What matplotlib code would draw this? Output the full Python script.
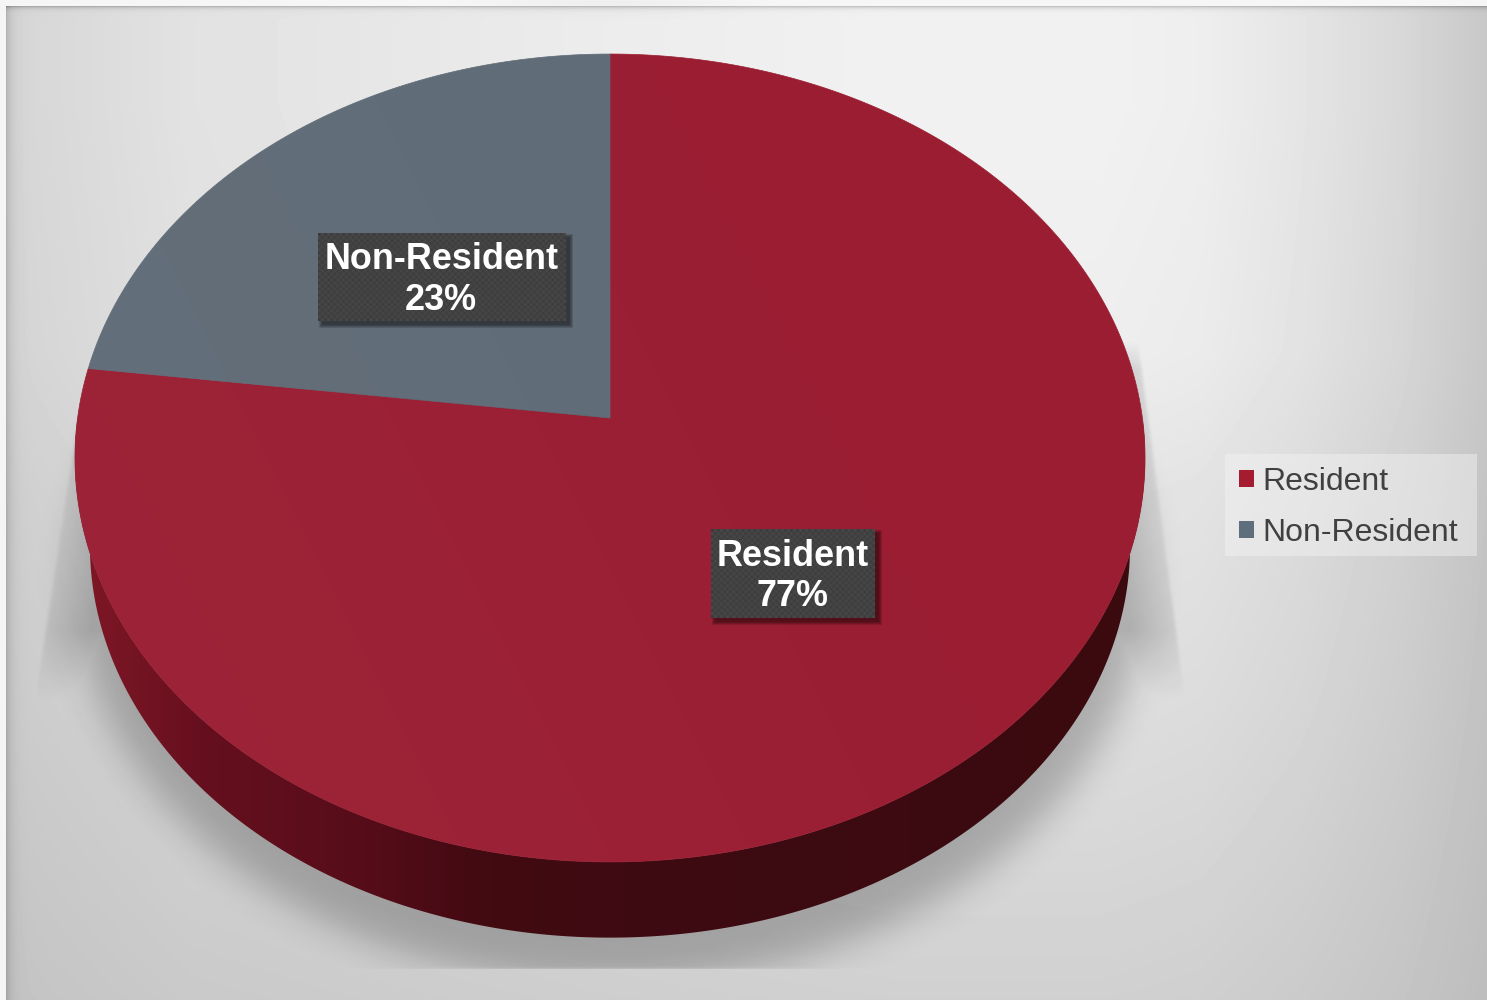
import numpy as np
import matplotlib
matplotlib.use("Agg")
import matplotlib.pyplot as plt
from matplotlib.patches import Polygon, Patch, Rectangle

plt.rcParams['font.family'] = ['Liberation Sans', 'DejaVu Sans']

# -----------------------------
# Data
# -----------------------------
categories = ["Resident", "Non-Resident"]
shares = [77, 23]
slice_colors = ["#9a1d32", "#5f6b76"]
legend_colors = ["#a51c30", "#5f6e7c"]

W, H = 1487, 1000

# pie disc seen in perspective: apex position, scale and depth factor
CX, CY = 610, 418
A, B, K = 532.4, 400.0, 0.099
# lower rim of the disc
A2, B2, CY2 = 517.5, 388.0, 507.0


def project(theta, r=1.0, a=A, b=B, cy=CY):
    # theta is measured clockwise from 12 o'clock
    u = r * np.sin(theta)
    v = r * np.cos(theta)
    return CX + a * u / (1 + K * v), cy - b * v / (1 + K * v)


def gaussian_blur(img, sigma):
    fy = np.fft.fftfreq(img.shape[0])[:, None]
    fx = np.fft.rfftfreq(img.shape[1])[None, :]
    kernel = np.exp(-2 * (np.pi * sigma) ** 2 * (fx ** 2 + fy ** 2))
    return np.fft.irfft2(np.fft.rfft2(img) * kernel, s=img.shape)


fig = plt.figure(figsize=(W / 100, H / 100), dpi=100)
ax = fig.add_axes([0, 0, 1, 1])
ax.set_axis_off()

# -----------------------------
# Background panel
# -----------------------------
yy, xx = np.mgrid[0:H, 0:W]
row_profile = np.interp(xx, [0, 30, 190, 600, 900, 1100, 1200, 1300, 1400, 1487],
                        [210, 215, 226, 236, 241, 241, 238, 229, 216, 200])
falloff = np.interp(yy, [0, 100, 350, 500, 700, 990, 1000], [1, 1, 0.95, 0.8, 0.69, 0.47, 0.46])
bg = 180 + (row_profile - 180) * falloff
bg -= 45 * np.exp(-np.clip(yy - 6, 0, None) / 2.0)
bg -= 30 * np.exp(-np.clip(xx - 6, 0, None) / 5.0)
bg[yy < 6] = 246
bg[xx < 6] = 245
ax.imshow(bg, cmap="gray", vmin=0, vmax=255, extent=(0, W, H, 0), aspect="auto", zorder=0)

# -----------------------------
# Drop shadow under the disc
# -----------------------------
mask = (((xx - CX) / 535.0) ** 2 + ((yy - 578) / 405.0) ** 2 < 1).astype(float)
alpha = 0.23 * gaussian_blur(mask, 18)

# flared parts of the shadow on both sides of the disc
left_edge = 77 - (yy - 423) * 0.152
right_edge = 1140 + (yy - 360) * 0.131
fade = np.clip((700 - yy) / 70.0, 0, 1)
left_part = (xx > left_edge) * (xx < 300) * np.clip((yy - 415) / 20.0, 0, 1)
right_part = (xx < right_edge) * (xx > 900) * np.clip((yy - 340) / 30.0, 0, 1)
left_part = left_part * (0.4 + 0.6 * np.clip((xx - left_edge) / 45.0, 0, 1))
right_part = right_part * (0.4 + 0.6 * np.clip((right_edge - xx) / 45.0, 0, 1))
alpha = np.maximum(alpha, 0.22 * left_part * fade)
alpha = np.maximum(alpha, 0.22 * right_part * fade)
alpha[yy > 968] = 0

shadow = np.zeros((H, W, 4))
shadow[..., 3] = gaussian_blur(alpha, 1.5)
shadow[yy > 968, 3] = 0
ax.imshow(shadow, extent=(0, W, H, 0), aspect="auto", zorder=1)

# -----------------------------
# Side wall of the disc
# -----------------------------
front = np.linspace(np.pi / 2, 3 * np.pi / 2, 300)
top_x, top_y = project(front)
low_x, low_y = project(front, a=A2, b=B2, cy=CY2)
wall_pts = np.vstack([np.column_stack([top_x, top_y]),
                      np.column_stack([low_x, low_y])[::-1],
                      [[CX - 535, 458], [CX, 300], [CX + 535, 458]]])
wall = Polygon(wall_pts, closed=True, fc="none", ec="none", zorder=2)
ax.add_patch(wall)

stops_x = [75, 130, 200, 360, 480, 700, 1145]
stops_r = [0.50, 0.46, 0.40, 0.34, 0.26, 0.24, 0.23]
stops_g = [0.09, 0.08, 0.06, 0.05, 0.04, 0.04, 0.04]
stops_b = [0.15, 0.14, 0.12, 0.10, 0.07, 0.07, 0.06]
columns = np.arange(W)
wall_rgb = np.dstack([np.interp(columns, stops_x, s)[None, :]
                      for s in (stops_r, stops_g, stops_b)])
wall_img = ax.imshow(wall_rgb, extent=(0, W, H, 0), aspect="auto", zorder=2)
wall_img.set_clip_path(wall)

# -----------------------------
# Pie slices, clockwise from 12 o'clock
# -----------------------------
fractions = np.array(shares) / sum(shares)
edges = np.concatenate([[0], np.cumsum(fractions)]) * 2 * np.pi
for i, color in enumerate(slice_colors):
    t = np.linspace(edges[i], edges[i + 1], 400)
    px, py = project(t)
    pts = np.vstack([[[CX, CY]], np.column_stack([px, py])])
    ax.add_patch(Polygon(pts, closed=True, fc=color, ec=color, lw=0.5, zorder=3))

# soft sheen across the top face, stronger towards the lower left
disc_x, disc_y = project(np.linspace(0, 2 * np.pi, 600))
disc = Polygon(np.column_stack([disc_x, disc_y]), closed=True, fc="none", ec="none", zorder=3)
ax.add_patch(disc)
sheen = np.ones((H, W, 4))
sheen[..., 3] = 0.03 * np.clip((1100 - xx + (yy - 400) * 0.5) / 1100.0, 0, 1)
sheen_img = ax.imshow(sheen, extent=(0, W, H, 0), aspect="auto", zorder=3)
sheen_img.set_clip_path(disc)

# -----------------------------
# Data labels
# -----------------------------
box_sizes = [(164, 89), (248, 88)]
label_shift = [(0, 0), (2, 4)]
text_shift = [0, -1]
for i, name in enumerate(categories):
    mid = (edges[i] + edges[i + 1]) / 2
    lx, ly = project(mid, r=0.5)
    lx += label_shift[i][0]
    ly += label_shift[i][1]
    bw, bh = box_sizes[i]
    x0, y0 = lx - bw / 2, ly - bh / 2

    for grow in (3, 2, 1, 0):
        ax.add_patch(Rectangle((x0 + 4 - grow, y0 + 4 - grow), bw + 2 * grow, bh + 2 * grow,
                               fc="black", ec="none", alpha=0.14, zorder=4))
    # stippled fill of the label box
    rows, cols = np.mgrid[0:int(bh / 3), 0:int(bw / 3)]
    dots = 58 + 16 * ((rows + cols) % 2)
    ax.imshow(dots, cmap="gray", vmin=0, vmax=255, extent=(x0, x0 + bw, y0 + bh, y0),
              aspect="auto", interpolation="bilinear", zorder=5)
    ax.text(lx + text_shift[i], ly + 2.5, "%s\n%d%%" % (name, shares[i]), color="white", fontsize=25.9,
            fontweight="bold", ha="center", va="center", linespacing=1.2, zorder=6)

# -----------------------------
# Legend
# -----------------------------
ax.add_patch(Rectangle((1225, 454), 252, 102, fc="#f4f4f4", ec="none", alpha=0.45, zorder=7))
handles = [Patch(facecolor=c, edgecolor="none", label=n) for c, n in zip(legend_colors, categories)]
leg = ax.legend(handles=handles, loc="center", bbox_to_anchor=(1348.5 / W, 1 - 507.5 / H), fontsize=23,
                labelcolor="#404040", frameon=False, handlelength=0.47, handleheight=0.47,
                handletextpad=0.28, labelspacing=0.66, borderpad=0, borderaxespad=0)
leg.set_zorder(8)

ax.set_xlim(0, W)
ax.set_ylim(H, 0)

fig.savefig("out.png", dpi=100)
